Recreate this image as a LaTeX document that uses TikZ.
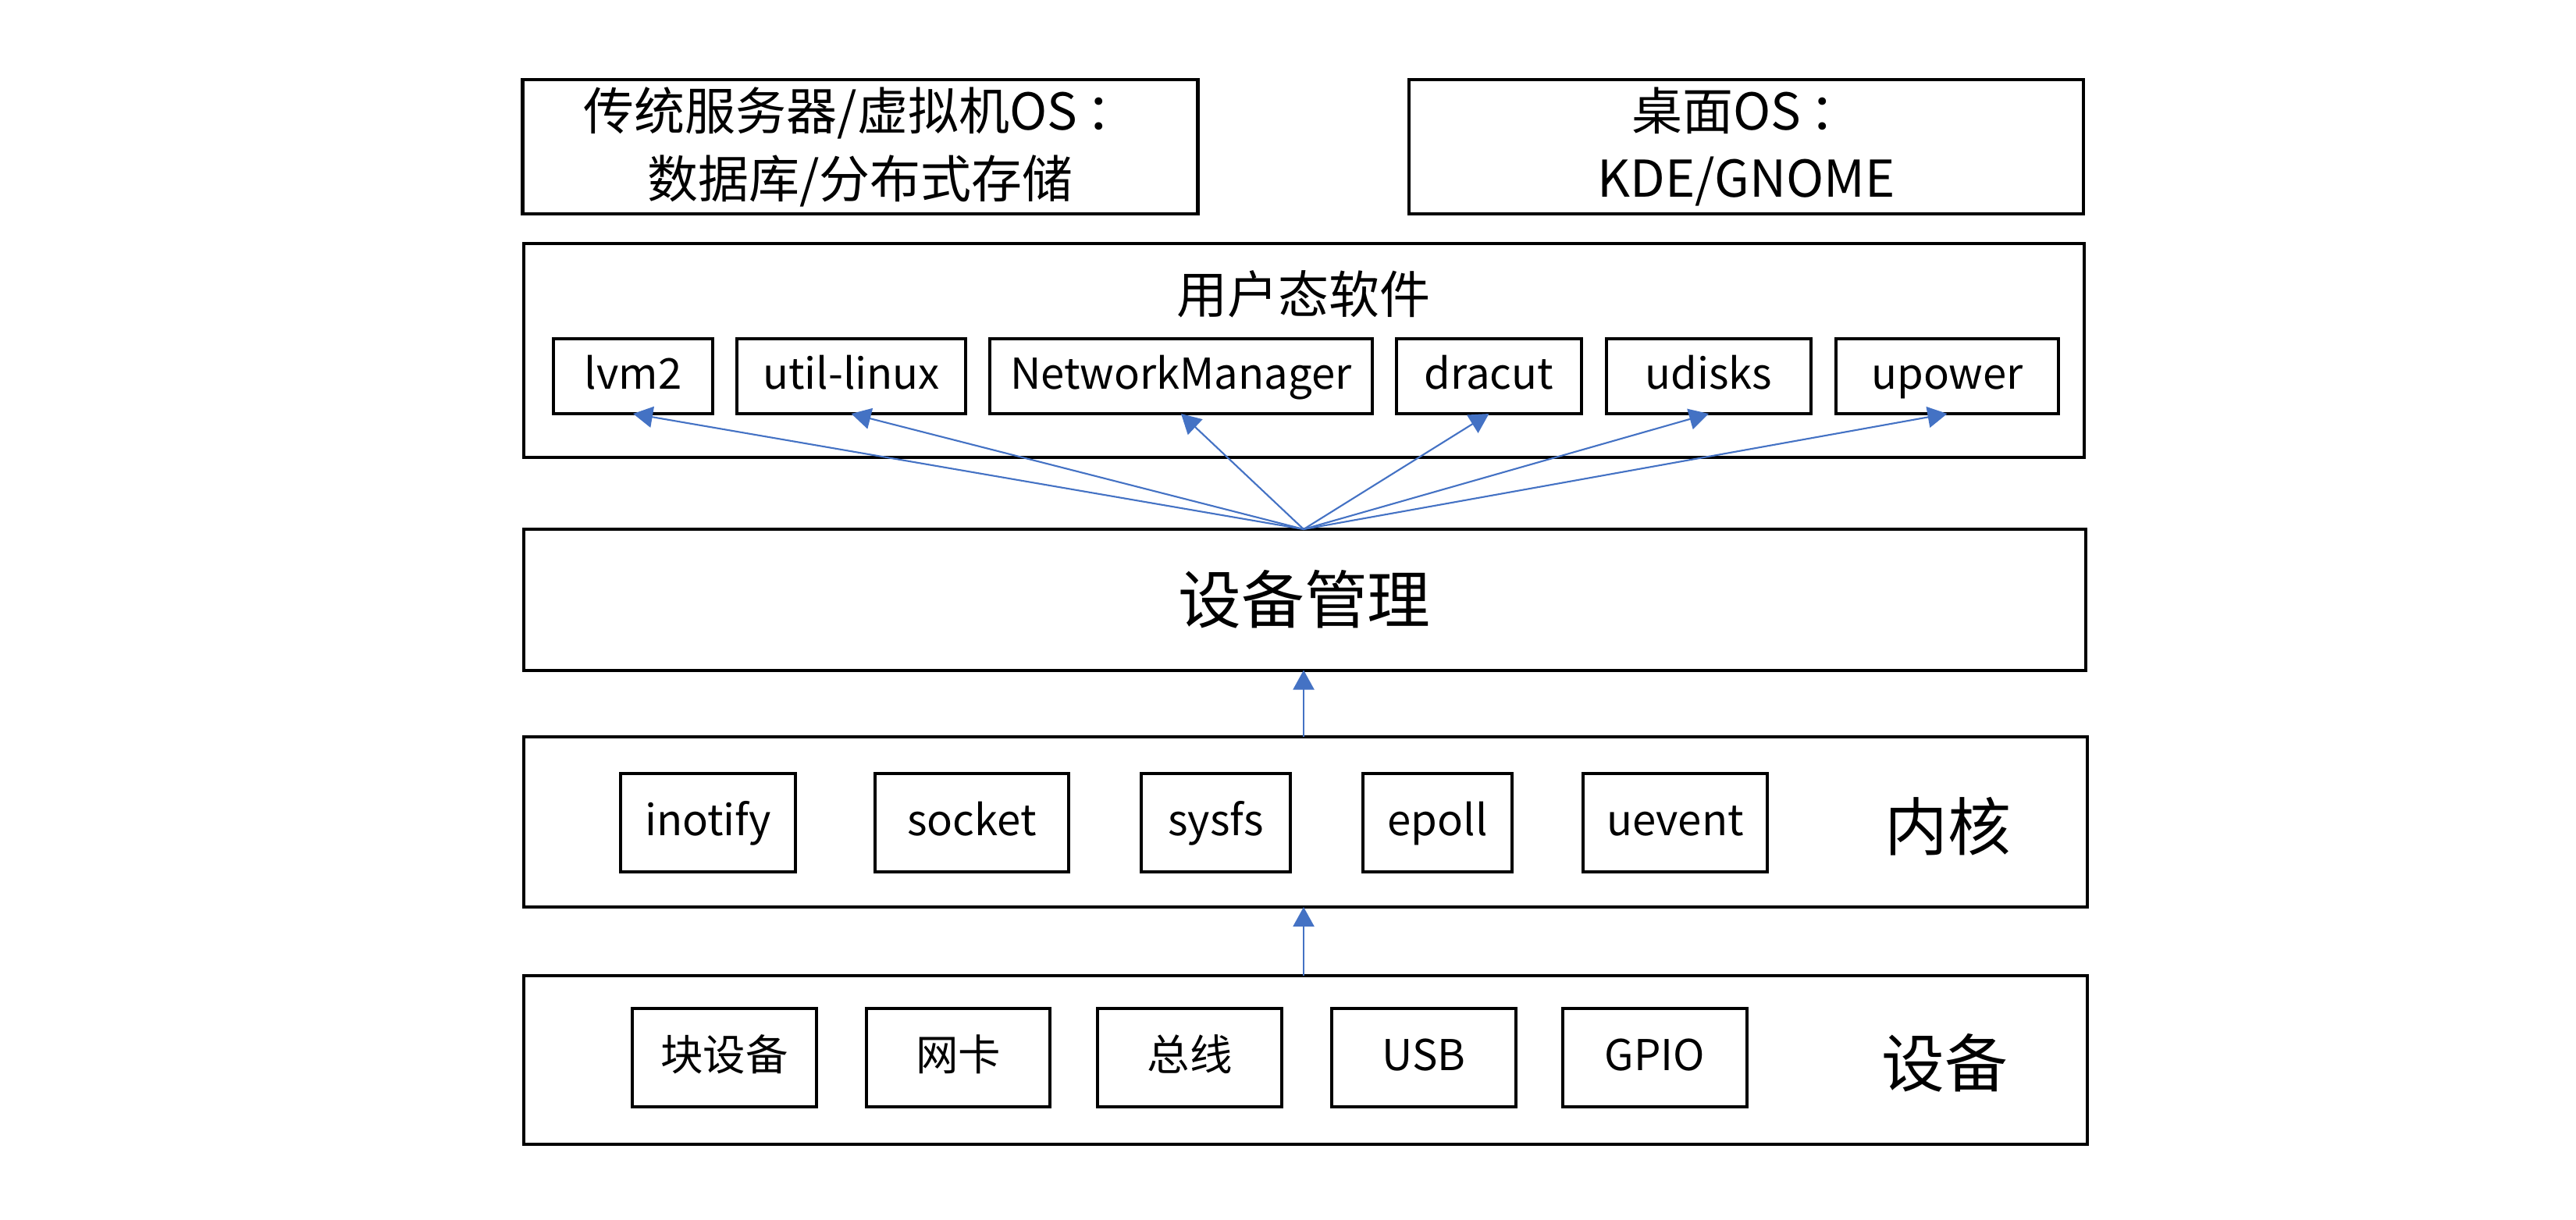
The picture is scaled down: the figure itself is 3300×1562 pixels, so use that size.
\documentclass[tikz,border=0pt]{standalone}
\usepackage{fontspec}
\setmainfont{Noto Sans CJK SC}
\usetikzlibrary{positioning,arrows.meta}

\begin{document}
\begin{tikzpicture}[x=0.1mm, y=-0.1mm,
  b/.style={draw, line width=1.15pt, inner sep=0pt, outer sep=0pt},
  i/.style={draw, line width=1.15pt, inner sep=0pt, outer sep=0pt, minimum height=9.6mm, text height=12.4pt, text depth=3.1pt, font=\fontsize{15.5}{18}\selectfont},
  k/.style={i, minimum height=12.6mm},
  l/.style={font=\fontsize{18.5}{23}\selectfont, align=center},
  h/.style={font=\fontsize{23}{28}\selectfont},
  a/.style={draw=arrowblue, line width=0.6pt, -{Triangle[length=2.5mm, width=2.7mm]}, fill=arrowblue}]
		\definecolor{arrowblue}{HTML}{4472C4}
		\useasboundingbox (0,0) rectangle (3300,1562);

		\node[b, l, minimum width=86.5mm, minimum height=17.2mm] (S) at (1102,188) {传统服务器/虚拟机OS\,：\\[0.6mm]数据库/分布式存储};
		\node[b, l, minimum width=86.4mm, minimum height=17.2mm] (D) at (2237,188) {桌面OS\,：\\[0.6mm]KDE/GNOME};

		\node[b, minimum width=199.9mm, minimum height=27.4mm] (U) at (1670,449) {};
		\node[l] (U_label) at (1670,377) {用户态软件};
		\node[i, minimum width=20.4mm] (lvm) at (811,482) {lvm2};
		\node[i, minimum width=29.3mm, right=3.1mm of lvm] (util) {util-linux};
		\node[i, minimum width=49mm, right=3.1mm of util] (nm) {NetworkManager};
		\node[i, minimum width=23.7mm, right=3.1mm of nm] (dracut) {dracut};
		\node[i, minimum width=26.2mm, right=3.2mm of dracut] (udisks) {udisks};
		\node[i, minimum width=28.5mm, right=3.2mm of udisks] (upower) {upower};

		\node[b, h, minimum width=200.1mm, minimum height=18.1mm] (M) at (1671,768) {设备管理};

		\node[b, minimum width=200.3mm, minimum height=21.8mm] (K) at (1672,1053) {};
		\node[h] (K_label) at (2495,1059) {内核};
		\node[k, minimum width=22.4mm] (inotify) at (907,1054) {inotify};
		\node[k, minimum width=24.8mm, right=10.2mm of inotify] (socket) {socket};
		\node[k, minimum width=19.1mm, right=9.3mm of socket] (sysfs) {sysfs};
		\node[k, minimum width=19.1mm, right=9.3mm of sysfs] (epoll) {epoll};
		\node[k, minimum width=23.6mm, right=9.1mm of epoll] (uevent) {uevent};

		\node[b, minimum width=200.3mm, minimum height=21.6mm] (E) at (1672,1358) {};
		\node[h] (E_label) at (2491,1362) {设备};
		\node[k, minimum width=23.6mm] (blk) at (928,1355) {块设备};
		\node[k, minimum width=23.5mm, right=6.4mm of blk] (nic) {网卡};
		\node[k, minimum width=23.6mm, right=6.1mm of nic] (bus) {总线};
		\node[k, minimum width=23.6mm, right=6.4mm of bus] (usb) {USB};
		\node[k, minimum width=23.6mm, right=6mm of usb] (gpio) {GPIO};

		\coordinate (f) at (1670,678);
		\draw[a] (f) -- (lvm.south);
		\draw[a] (f) -- (util.south);
		\draw[a] (f) -- (nm.south);
		\draw[a] (f) -- (dracut.south);
		\draw[a] (f) -- (udisks.south);
		\draw[a] (f) -- (upower.south);
		\draw[a] (K.north -| f) -- (M.south -| f);
		\draw[a] (E.north -| f) -- (K.south -| f);
	\end{tikzpicture}
\end{document}
